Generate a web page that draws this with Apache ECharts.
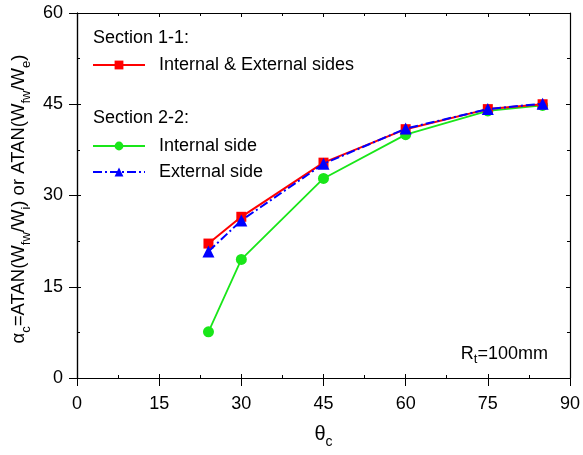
<!DOCTYPE html>
<html><head><meta charset="utf-8">
<script src="https://cdn.jsdelivr.net/npm/echarts@6/dist/echarts.min.js"></script>
<style>html,body{margin:0;padding:0;background:#fff}#c{width:583px;height:455px}</style>
</head><body><div id="c"></div>
<script>
const xValues = [24, 30, 45, 60, 75, 85];
const section11 = [22.1, 26.5, 35.4, 40.9, 44.2, 45.0];
const internal22 = [7.6, 19.5, 32.8, 40.0, 43.9, 44.8];
const external22 = [20.8, 25.9, 35.2, 41.0, 44.2, 45.1];
const seriesNames = ['Internal & External sides', 'Internal side', 'External side'];
const sectionLabels = ['Section 1-1:', 'Section 2-2:'];
const yTitle = '{a|α}{s|c}{a|=ATAN(W}{s|fw}{a|/W}{s|i}{a|) or ATAN(W}{s|fw}{a|/W}{s|e}{a|)}';
const xTitle = '{a|θ}{s|c}';
const noteText = '{a|R}{s|t}{a|=100mm}';

const FONT = 'Liberation Sans, Arial, sans-serif';
const pair = (xs, ys) => xs.map((x, i) => [x, ys[i]]);
const chart = echarts.init(document.getElementById('c'));

const baseAxis = {
  min: 0, interval: 15,
  axisLine: { show: true, onZero: false, lineStyle: { color: '#000', width: 1.2 } },
  splitLine: { show: false }
};
const xCommon = Object.assign({}, baseAxis, { type: 'value', max: 90 });
const yCommon = Object.assign({}, baseAxis, { type: 'value', max: 60 });
const subRich = (size, sub, pad, key) => ({
  a: { fontFamily: FONT, fontSize: size, [key]: '#000', verticalAlign: 'top', lineHeight: size + 4 },
  s: { fontFamily: FONT, fontSize: sub, [key]: '#000', verticalAlign: 'top', padding: [pad, 0, 0, 0] }
});

chart.setOption({
  animation: false,
  backgroundColor: '#fff',
  grid: { left: 77, right: 10, top: 13, bottom: 77, containLabel: false },
  xAxis: [
    Object.assign({}, xCommon, {
      position: 'bottom',
      axisTick: { show: true, inside: false, length: 8, lineStyle: { color: '#000' } },
      axisLabel: { fontFamily: FONT, fontSize: 18, color: '#000', margin: 17 },
      name: xTitle, nameLocation: 'middle', nameGap: 46,
      nameTextStyle: { rich: subRich(20, 14, 11, 'color') }
    }),
    Object.assign({}, xCommon, {
      position: 'bottom',
      axisTick: { show: true, inside: true, length: 4, lineStyle: { color: '#000' } },
      minorTick: { show: true, splitNumber: 2, length: 3, lineStyle: { color: '#000' } },
      axisLabel: { show: false }
    }),
    Object.assign({}, xCommon, {
      position: 'top',
      axisTick: { show: true, inside: true, length: 4, lineStyle: { color: '#000' } },
      minorTick: { show: true, splitNumber: 2, length: 3, lineStyle: { color: '#000' } },
      axisLabel: { show: false }
    })
  ],
  yAxis: [
    Object.assign({}, yCommon, {
      position: 'left',
      axisTick: { show: true, inside: false, length: 8, lineStyle: { color: '#000' } },
      axisLabel: { fontFamily: FONT, fontSize: 18, color: '#000', margin: 14 }
    }),
    Object.assign({}, yCommon, {
      position: 'left',
      axisTick: { show: true, inside: true, length: 4, lineStyle: { color: '#000' } },
      minorTick: { show: true, splitNumber: 2, length: 3, lineStyle: { color: '#000' } },
      axisLabel: { show: false }
    }),
    Object.assign({}, yCommon, {
      position: 'right',
      axisTick: { show: true, inside: true, length: 4, lineStyle: { color: '#000' } },
      minorTick: { show: true, splitNumber: 2, length: 3, lineStyle: { color: '#000' } },
      axisLabel: { show: false }
    })
  ],
  legend: [
    {
      data: [seriesNames[0]], left: 87, top: 51, orient: 'vertical',
      itemWidth: 52, itemHeight: 11,
      textStyle: { fontFamily: FONT, fontSize: 18, color: '#000', padding: [0, 0, 0, 9] }
    },
    {
      data: [seriesNames[1], seriesNames[2]], left: 87, top: 132, orient: 'vertical',
      itemWidth: 52, itemHeight: 11, itemGap: 8,
      textStyle: { fontFamily: FONT, fontSize: 18, color: '#000', padding: [0, 0, 0, 9] }
    }
  ],
  graphic: [
    { type: 'text', left: 93, top: 29, style: { text: sectionLabels[0], font: '18px ' + FONT, fill: '#000' } },
    { type: 'text', left: 93, top: 109, style: { text: sectionLabels[1], font: '18px ' + FONT, fill: '#000' } },
    { type: 'text', x: 21, y: 199, rotation: Math.PI / 2, style: {
        text: yTitle, align: 'center', verticalAlign: 'middle',
        rich: subRich(18.5, 13, 10, 'fill')
    } },
    { type: 'text', right: 35, top: 345, style: {
        text: noteText, rich: subRich(18, 13, 8, 'fill')
    } }
  ],
  series: [
    {
      name: seriesNames[0], type: 'line', data: pair(xValues, section11),
      symbol: 'rect', symbolSize: 10, z: 3,
      lineStyle: { color: '#ff0000', width: 2 }, itemStyle: { color: '#ff0000' }
    },
    {
      name: seriesNames[1], type: 'line', data: pair(xValues, internal22),
      symbol: 'circle', symbolSize: 11, z: 2,
      lineStyle: { color: '#19e619', width: 1.8 }, itemStyle: { color: '#19e619' }
    },
    {
      name: seriesNames[2], type: 'line', data: pair(xValues, external22),
      symbol: 'triangle', symbolSize: 12, z: 4,
      lineStyle: { color: '#0000ff', width: 2, type: [9, 3, 2, 3] }, itemStyle: { color: '#0000ff' }
    }
  ]
});
</script></body></html>
